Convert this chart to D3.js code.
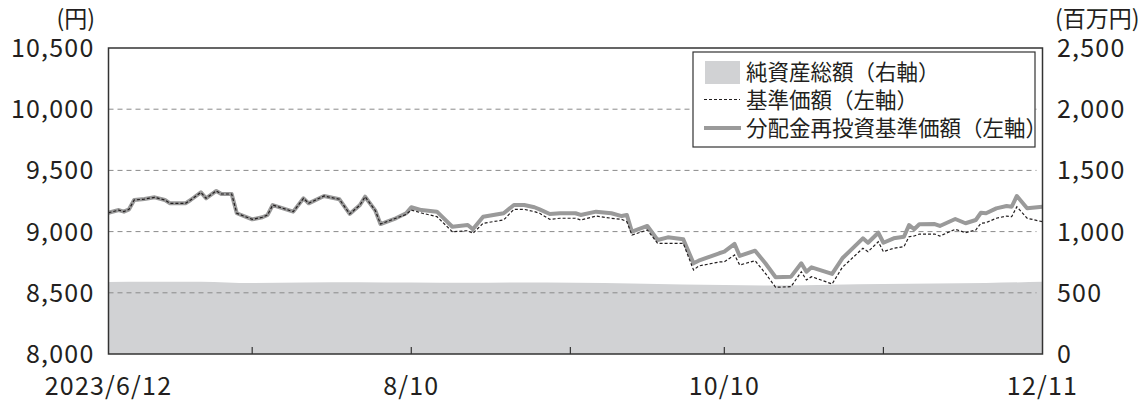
<!DOCTYPE html>
<html>
<head>
<meta charset="utf-8">
<script src="https://cdn.jsdelivr.net/npm/d3@7"></script>
<style>
  body { margin: 0; background: #fff; }
  svg text { font-family: "Noto Sans CJK JP", "Noto Sans", sans-serif; fill: #231f20; }
</style>
</head>
<body>
<svg id="chart"></svg>
<script>
const width = 1148,
    height = 401;
const plotLeft = 108.5, plotRight = 1042.5, plotTop = 48, plotBottom = 354;

// 基準価額 / 分配金再投資基準価額 (円)
const dates = [
    "2023-06-12", "2023-06-14", "2023-06-15", "2023-06-16", "2023-06-17", "2023-06-19", "2023-06-21",
    "2023-06-23", "2023-06-24", "2023-06-27", "2023-06-28", "2023-06-30", "2023-07-01", "2023-07-03",
    "2023-07-04", "2023-07-06", "2023-07-07", "2023-07-10", "2023-07-12", "2023-07-13", "2023-07-14",
    "2023-07-18", "2023-07-20", "2023-07-21", "2023-07-24", "2023-07-27", "2023-07-29", "2023-07-31",
    "2023-08-01", "2023-08-03", "2023-08-04", "2023-08-07", "2023-08-09", "2023-08-10", "2023-08-12",
    "2023-08-15", "2023-08-18", "2023-08-21", "2023-08-22", "2023-08-24", "2023-08-28", "2023-08-30",
    "2023-09-01", "2023-09-03", "2023-09-04", "2023-09-06", "2023-09-08", "2023-09-11", "2023-09-12",
    "2023-09-15", "2023-09-18", "2023-09-20", "2023-09-21", "2023-09-22", "2023-09-25", "2023-09-27",
    "2023-09-29", "2023-10-02", "2023-10-04", "2023-10-05", "2023-10-09", "2023-10-10", "2023-10-12",
    "2023-10-13", "2023-10-16", "2023-10-18", "2023-10-20", "2023-10-23", "2023-10-25", "2023-10-26",
    "2023-10-27", "2023-10-31", "2023-11-02", "2023-11-06", "2023-11-07", "2023-11-09", "2023-11-10",
    "2023-11-12", "2023-11-14", "2023-11-15", "2023-11-16", "2023-11-17", "2023-11-20", "2023-11-21",
    "2023-11-24", "2023-11-26", "2023-11-28", "2023-11-29", "2023-11-30", "2023-12-02", "2023-12-04",
    "2023-12-05", "2023-12-06", "2023-12-08", "2023-12-11"
];
const reinvested = [
    9154, 9176, 9163, 9182, 9258, 9266, 9280,
    9258, 9231, 9231, 9258, 9321, 9272, 9332,
    9307, 9307, 9150, 9100, 9117, 9136, 9217,
    9163, 9272, 9231, 9291, 9264, 9144, 9217,
    9285, 9171, 9062, 9109, 9150, 9199, 9176,
    9163, 9040, 9054, 9019, 9122, 9150, 9217,
    9217, 9199, 9182, 9144, 9150, 9150, 9136,
    9163, 9150, 9127, 9136, 8999, 9046, 8931,
    8953, 8937, 8741, 8762, 8823, 8836, 8899,
    8801, 8844, 8741, 8627, 8632, 8741, 8672,
    8708, 8654, 8782, 8945, 8909, 8991, 8909,
    8945, 8958, 9054, 9019, 9060, 9062, 9046,
    9103, 9068, 9095, 9154, 9150, 9190, 9209,
    9203, 9291, 9190, 9203
];
const nav = [
    9154, 9176, 9163, 9182, 9258, 9266, 9280,
    9258, 9231, 9231, 9258, 9321, 9272, 9332,
    9307, 9307, 9150, 9100, 9117, 9136, 9217,
    9163, 9272, 9231, 9291, 9264, 9144, 9217,
    9285, 9171, 9062, 9109, 9140, 9176, 9152,
    9122, 8999, 9007, 8986, 9068, 9095, 9182,
    9182, 9163, 9150, 9100, 9109, 9109, 9095,
    9127, 9109, 9100, 9081, 8972, 9013, 8904,
    8904, 8904, 8686, 8719, 8752, 8754, 8809,
    8727, 8762, 8659, 8545, 8550, 8672, 8605,
    8632, 8572, 8708, 8864, 8836, 8917, 8836,
    8864, 8877, 8958, 8964, 8980, 8980, 8964,
    9019, 8991, 9013, 9068, 9073, 9109, 9127,
    9122, 9203, 9109, 9081
];

// 純資産総額 (百万円)
const assetDates = [
    "2023-06-12", "2023-06-20", "2023-06-30", "2023-07-10", "2023-07-20", "2023-07-31", "2023-08-10",
    "2023-08-21", "2023-08-31", "2023-09-11", "2023-09-22", "2023-10-02", "2023-10-10", "2023-10-20",
    "2023-10-31", "2023-11-10", "2023-11-20", "2023-11-30", "2023-12-11"
];
const assetValues = [
    588, 590, 591, 580, 585, 587, 584,
    582, 584, 583, 577, 568, 563, 560,
    565, 571, 575, 580, 590
];

const leftTicks = [8000, 8500, 9000, 9500, 10000, 10500];
const rightTicks = [0, 500, 1000, 1500, 2000, 2500];
const monthTicks = ["2023-07-10", "2023-08-10", "2023-09-10", "2023-10-10", "2023-11-10"];
const dateLabels = [
    { date: "2023-06-12", label: "2023/6/12" },
    { date: "2023-08-10", label: "8/10" },
    { date: "2023-10-10", label: "10/10" },
    { date: "2023-12-11", label: "12/11" }
];
const legendItems = ["純資産総額（右軸）", "基準価額（左軸）", "分配金再投資基準価額（左軸）"];

const parse = d3.timeParse("%Y-%m-%d");

const svg = d3.select("svg#chart")
    .attr("width", width)
    .attr("height", height);

const x = d3.scaleTime()
    .domain([parse("2023-06-12"), parse("2023-12-11")])
    .range([plotLeft, plotRight]);
const yL = d3.scaleLinear().domain([8000, 10500]).range([plotBottom, plotTop]);
const yR = d3.scaleLinear().domain([0, 2500]).range([plotBottom, plotTop]);

const series = dates.map((d, i) => ({ date: parse(d), re: reinvested[i], nav: nav[i] }));
const assets = assetDates.map((d, i) => ({ date: parse(d), v: assetValues[i] }));

// net assets area
const area = d3.area()
    .x(d => x(d.date))
    .y0(plotBottom)
    .y1(d => yR(d.v))
    .curve(d3.curveMonotoneX);
svg.append("path")
    .datum(assets)
    .attr("d", area)
    .attr("fill", "#d1d2d4");

// grid lines
svg.append("g")
    .selectAll("line")
    .data(leftTicks.slice(1, -1))
    .enter()
    .append("line")
    .attr("x1", plotLeft)
    .attr("x2", plotRight - 6)
    .attr("y1", d => yL(d))
    .attr("y2", d => yL(d))
    .attr("stroke", "#8a8a8a")
    .attr("stroke-width", 1)
    .attr("stroke-dasharray", "5,4");

// lines
const lineRe = d3.line().x(d => x(d.date)).y(d => yL(d.re));
const lineNav = d3.line().x(d => x(d.date)).y(d => yL(d.nav));
svg.append("path")
    .datum(series)
    .attr("d", lineRe)
    .attr("fill", "none")
    .attr("stroke", "#9a9a9a")
    .attr("stroke-width", 4)
    .attr("stroke-linejoin", "round");
svg.append("path")
    .datum(series)
    .attr("d", lineNav)
    .attr("fill", "none")
    .attr("stroke", "#231f20")
    .attr("stroke-width", 1.2)
    .attr("stroke-dasharray", "3,2");

// frame
svg.append("rect")
    .attr("x", plotLeft)
    .attr("y", plotTop)
    .attr("width", plotRight - plotLeft)
    .attr("height", plotBottom - plotTop)
    .attr("fill", "none")
    .attr("stroke", "#333")
    .attr("stroke-width", 1.5);

// bottom inner ticks
svg.append("g")
    .selectAll("line")
    .data(monthTicks)
    .enter()
    .append("line")
    .attr("x1", d => x(parse(d)))
    .attr("x2", d => x(parse(d)))
    .attr("y1", plotBottom)
    .attr("y2", plotBottom - 7)
    .attr("stroke", "#333")
    .attr("stroke-width", 1.2);

// axis labels
const fs = 25;
svg.append("g")
    .selectAll("text")
    .data(leftTicks)
    .enter()
    .append("text")
    .attr("x", 94.5)
    .attr("y", d => yL(d))
    .attr("dy", "0.36em")
    .attr("text-anchor", "end")
    .style("font-size", fs + "px")
    .style("letter-spacing", "1.2px")
    .text(d => d3.format(",")(d));
svg.append("g")
    .selectAll("text")
    .data(rightTicks)
    .enter()
    .append("text")
    .attr("x", 1057)
    .attr("y", d => yR(d))
    .attr("dy", "0.36em")
    .attr("text-anchor", "start")
    .style("font-size", fs + "px")
    .style("letter-spacing", "1.2px")
    .text(d => d3.format(",")(d));
svg.append("g")
    .selectAll("text")
    .data(dateLabels)
    .enter()
    .append("text")
    .attr("x", d => x(parse(d.date)))
    .attr("y", 395)
    .attr("text-anchor", "middle")
    .style("font-size", fs + "px")
    .style("letter-spacing", "1.2px")
    .text(d => d.label);

svg.append("text")
    .attr("x", 95)
    .attr("y", 27)
    .attr("text-anchor", "end")
    .style("font-size", "23px")
    .text("(円)");
svg.append("text")
    .attr("x", 1055)
    .attr("y", 27)
    .attr("text-anchor", "start")
    .style("font-size", "23px")
    .text("(百万円)");

// legend
const legend = svg.append("g");
legend.append("rect")
    .attr("x", 693)
    .attr("y", 52)
    .attr("width", 342)
    .attr("height", 95)
    .attr("fill", "#fff")
    .attr("stroke", "#333")
    .attr("stroke-width", 1.2);
legend.append("rect")
    .attr("x", 705)
    .attr("y", 61)
    .attr("width", 35)
    .attr("height", 23)
    .attr("fill", "#d1d2d4");
legend.append("line")
    .attr("x1", 704).attr("x2", 740)
    .attr("y1", 99.5).attr("y2", 99.5)
    .attr("stroke", "#231f20")
    .attr("stroke-width", 1.2)
    .attr("stroke-dasharray", "3,2");
legend.append("line")
    .attr("x1", 704).attr("x2", 741)
    .attr("y1", 128).attr("y2", 128)
    .attr("stroke", "#9a9a9a")
    .attr("stroke-width", 4);
legend.selectAll("text")
    .data(legendItems)
    .enter()
    .append("text")
    .attr("x", 746)
    .attr("y", (d, i) => 72 + i * 28)
    .attr("dy", "0.36em")
    .style("font-size", "21.5px")
    .text(d => d);
</script>
</body>
</html>
